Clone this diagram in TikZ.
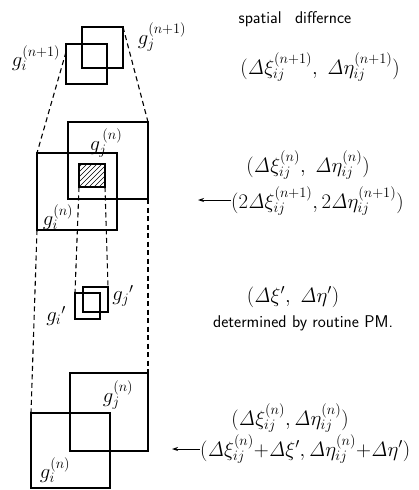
\documentclass[tikz,border=0pt]{standalone}
\usetikzlibrary{arrows.meta,calc}
\begin{document}
\begin{tikzpicture}[x=1pt,y=-1pt,
  frame/.style={draw,line width=1.8pt,inner sep=0pt,outer sep=0pt},
  guide/.style={line width=1.1pt,dash pattern=on 5pt off 3.5pt},
  lbl/.style={inner sep=0pt,font=\fontsize{20}{23}\selectfont},
  eq/.style={inner sep=0pt,font=\fontsize{19.5}{22}\selectfont},
  note/.style={inner sep=0pt,font=\fontsize{17}{20}\selectfont\sffamily},
  pointer/.style={line width=0.9pt,-{Stealth[length=6pt,width=4pt]}}]
\useasboundingbox (0,0) rectangle (419,490);

% grid pair at level n+1
\node[frame,minimum width=41pt,minimum height=41pt] (gj1) at (102.5,47.5) {};
\node[frame,minimum width=41pt,minimum height=40pt] (gi1) at (86.5,64) {};
% grid pair at level n
\node[frame,minimum width=80pt,minimum height=77pt] (gjn) at (108,160.5) {};
\node[frame,minimum width=80pt,minimum height=77pt] (gin) at (77,191.5) {};
\node[frame,minimum width=26pt,minimum height=23pt] (core) at (92,175.5) {};
% hatched overlap core
\begin{scope}
  \clip (core.south west) rectangle (core.north east);
  \foreach \k in {-30,-25,...,30}
    \draw[line width=0.7pt] (core.south west) ++(\k,0) -- ++(30,-30);
\end{scope}
% small windows for routine PM
\node[frame,minimum width=25pt,minimum height=25pt] (gjp) at (95.5,299.5) {};
\node[frame,minimum width=25pt,minimum height=26pt] (gip) at (87.5,306) {};
% corrected pair
\node[frame,minimum width=78pt,minimum height=78pt] (bj) at (109,412) {};
\node[frame,minimum width=79pt,minimum height=75pt] (bi) at (70.5,450.5) {};

% projection guides
\draw[guide] ($(gi1.north west)!0.2!(gi1.south west)$) -- (gin.north west);
\draw[guide] (gj1.north east) -- (gjn.north east);
\draw[guide] (gin.south west) -- (bi.north west);
\draw[guide] (gjn.south east) -- (bj.north east);
\draw[guide] (core.south west) -- (gip.north west);
\draw[guide] (core.south east) -- (gjp.north east);

% grid labels
\node[lbl] (li1) at (36,58) {$g_i^{(n+1)}$};
\node[lbl] (lj1) at (162,37) {$g_j^{(n+1)}$};
\node[lbl] (ljn) at (106,143) {$g_j^{\,(n)}$};
\node[lbl] (lin) at (58,217) {$g_i^{(n)}$};
\node[lbl] (lip) at (56,316) {$g_i{}'$};
\node[lbl] (ljp) at (123,296) {$g_j{}'$};
\node[lbl] (lbj) at (118,395) {$g_j^{(n)}$};
\node[lbl] (lbi) at (55,470) {$g_i^{(n)}$};

% annotations
\node[note] (title) at (295,19) {spatial\hspace{8pt} differnce};
\node[eq] (d1) at (320,67) {$(\mathit{\Delta}\xi_{ij}^{(n+1)},\ \mathit{\Delta}\eta_{ij}^{(n+1)})$};
\node[eq] (d2) at (308,165) {$(\mathit{\Delta}\xi_{ij}^{(n)},\ \mathit{\Delta}\eta_{ij}^{(n)})$};
\node[eq,anchor=west] (d3) at (231,201) {$(2\mathit{\Delta}\xi_{ij}^{(n+1)},2\mathit{\Delta}\eta_{ij}^{(n+1)})$};
\coordinate (p3) at (198,200);
\draw[pointer] (d3.west |- p3) -- (p3);
\node[eq] (d4) at (293,297) {$(\mathit{\Delta}\xi',\ \mathit{\Delta}\eta')$};
\node[note] (pm) at (303,323) {determined by routine PM.};
\node[eq] (d5) at (290,418) {$(\mathit{\Delta}\xi_{ij}^{(n)},\mathit{\Delta}\eta_{ij}^{(n)})$};
\node[eq,anchor=west] (d6) at (200,449) {$(\mathit{\Delta}\xi_{ij}^{(n)}{+}\mathit{\Delta}\xi',\mathit{\Delta}\eta_{ij}^{(n)}{+}\mathit{\Delta}\eta')$};
\coordinate (p6) at (172,449);
\draw[pointer] (d6.west |- p6) -- (p6);
\end{tikzpicture}
\end{document}
